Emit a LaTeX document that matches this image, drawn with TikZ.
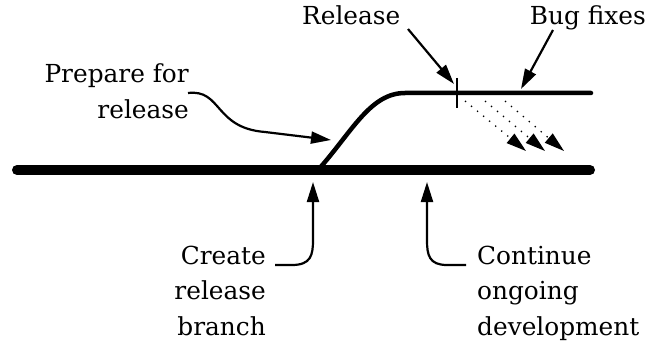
\documentclass[tikz,border=0pt]{standalone}
\usepackage{fontspec}
\setmainfont{DejaVu Serif}
\usetikzlibrary{arrows.meta}
\begin{document}
\begin{tikzpicture}[x=1pt,y=-1pt,
  lbl/.style={inner sep=0pt,font=\fontsize{24.8}{35.5}\selectfont},
  callout/.style={line width=2.2pt,-{Triangle[length=20pt,width=12pt]}},
  fix/.style={line width=1.3pt,dash pattern=on 1.3pt off 6.5pt,-{Triangle[length=20pt,width=12pt]}},
  trunk/.style={line width=10pt,line cap=round},
  branchline/.style={line width=4.5pt,line cap=round}]
\useasboundingbox (0,0) rectangle (651,345);
% trunk and branch
\coordinate (t0) at (17,170);
\coordinate (t1) at (590,170);
\draw[trunk] (t0) -- (t1);
\coordinate (b0) at (318,170);
\coordinate (b1) at (405,93);
\coordinate (b2) at (591,93);
\draw[branchline] (b0) .. controls (352,132) and (370,93) .. (b1) -- (b2);
% release tick
\coordinate (r0) at (457,78);
\coordinate (r1) at (457,108);
\draw[line width=1.2pt] (r0) -- (r1);
% labels
\node[lbl,anchor=base west] (rel) at (302,25) {Release};
\node[lbl,anchor=base east] (bug) at (646,25) {Bug fixes};
\node[lbl,anchor=base east,align=right] (prep) at (189,118) {Prepare for\\release};
\node[lbl,anchor=base east,align=right] (create) at (266,335) {Create\\release\\branch};
\node[lbl,anchor=base west,align=left] (cont) at (477,335) {Continue\\ongoing\\development};
% callouts
\coordinate (ra) at (408,29);
\coordinate (rt) at (454,84);
\draw[callout] (ra) -- (rt);
\coordinate (ba) at (553,30);
\coordinate (bt) at (521,89);
\draw[callout] (ba) -- (bt);
\coordinate (pa) at (188,93);
\coordinate (pt) at (331,140);
\draw[callout] (pa) .. controls (222,89) and (214,128) .. (265,132) -- (pt);
\coordinate (ca) at (275,265);
\coordinate (ct) at (313,182);
\draw[callout] (ca) -- (292,265) .. controls (311,265) and (313,255) .. (313,240) -- (ct);
\coordinate (na) at (466,265);
\coordinate (nt) at (427,182);
\draw[callout] (na) -- (447,265) .. controls (429,265) and (427,255) .. (427,240) -- (nt);
% bug fix flows
\foreach \i/\sx/\ex in {1/465/526, 2/485/545, 3/505/564}{
  \coordinate (f\i a) at (\sx,101);
  \coordinate (f\i b) at (\ex,151);
  \draw[fix] (f\i a) -- (f\i b);
}
\end{tikzpicture}
\end{document}
